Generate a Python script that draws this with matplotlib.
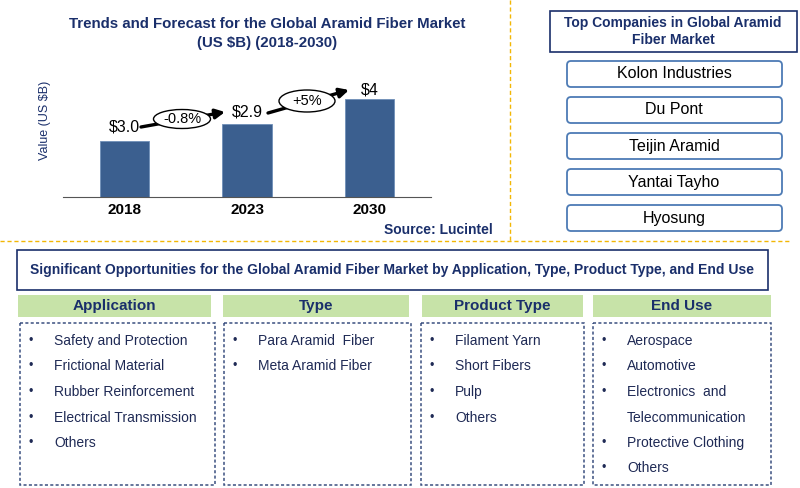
import matplotlib
matplotlib.use("Agg")
import matplotlib.pyplot as plt
from matplotlib.patches import Rectangle, FancyBboxPatch, Ellipse

plt.rcParams['font.family'] = ['Liberation Sans', 'DejaVu Sans']

# chart data
years = ['2018', '2023', '2030']
bar_heights = [2.3, 3.0, 4.0]          # visual bar heights
value_labels = ['$3.0', '$2.9', '$4']
growth_labels = ['-0.8%', '+5%']

companies = ['Kolon Industries', 'Du Pont', 'Teijin Aramid', 'Yantai Tayho', 'Hyosung']

segment_titles = ['Application', 'Type', 'Product Type', 'End Use']
application = ['Safety and Protection', 'Frictional Material', 'Rubber Reinforcement',
               'Electrical Transmission', 'Others']
types = ['Para Aramid  Fiber', 'Meta Aramid Fiber']
product_types = ['Filament Yarn', 'Short Fibers', 'Pulp', 'Others']
end_use = ['Aerospace', 'Automotive', 'Electronics  and\nTelecommunication',
           'Protective Clothing', 'Others']

navy = '#1a2f6b'
text_navy = '#1f2a55'
bar_color = '#3b5f8f'
gold = '#f2b705'
green = '#c7e3a8'
W, H = 800, 488

fig = plt.figure(figsize=(W / 100, H / 100), dpi=100)
ov = fig.add_axes([0, 0, 1, 1])
ov.set_xlim(0, W)
ov.set_ylim(H, 0)
ov.axis('off')

# ---- bar chart ----
ax = fig.add_axes([63 / W, (H - 197) / H, (431 - 63) / W, (197 - 60) / H])
xs = range(len(years))
ax.bar(xs, bar_heights, width=0.4, color=bar_color, edgecolor='#6f8fb8', linewidth=0.6)
ax.set_xlim(-0.5, 2.5)
ax.set_ylim(0, 4.0 * 137 / 98)
for s in ['top', 'right', 'left']:
    ax.spines[s].set_visible(False)
ax.spines['bottom'].set_color('#555555')
ax.set_yticks([])
ax.set_xticks(list(xs))
ax.set_xticklabels(years, fontsize=11, fontweight='bold')
ax.tick_params(axis='x', length=0, pad=4)
ax.patch.set_alpha(0)

# value labels above bars
lab_off = [0.55, 0.45, 0.35]
for i, (h, t) in enumerate(zip(bar_heights, value_labels)):
    ax.text(i, h + lab_off[i], t, ha='center', va='center', fontsize=11.5)

# growth arrows with ellipses (figure pixel coords)
arrows = [((141, 127), (225, 112), (182, 119), 57, 19),
          ((268, 113), (349, 90), (307, 101), 56, 22)]
for (p0, p1, c, ew, eh), g in zip(arrows, growth_labels):
    ov.annotate('', xy=p1, xytext=p0,
                arrowprops=dict(arrowstyle='-|>,head_length=0.55,head_width=0.28',
                                color='black', lw=2.4, shrinkA=0, shrinkB=0))
    ov.add_patch(Ellipse(c, ew, eh, facecolor='white', edgecolor='black', lw=1, zorder=5))
    ov.text(c[0], c[1], g, ha='center', va='center', fontsize=10.5, zorder=6)

ov.text(267, 24, 'Trends and Forecast for the Global Aramid Fiber Market',
        ha='center', va='center', fontsize=10.8, fontweight='bold', color=navy)
ov.text(267, 43, '(US $B) (2018-2030)', ha='center', va='center',
        fontsize=10.8, fontweight='bold', color=navy)
ov.text(45, 120, 'Value (US $B)', rotation=90, ha='center', va='center',
        fontsize=9, color=navy)
ov.text(493, 230, 'Source: Lucintel', ha='right', va='center',
        fontsize=10, fontweight='bold', color=navy)

# dashed separators
ov.plot([510, 510], [0, 241], ls=(0, (3, 2)), color=gold, lw=1)
ov.plot([0, 790], [241, 241], ls=(0, (3, 2)), color=gold, lw=1)

# ---- top companies ----
ov.add_patch(Rectangle((550, 11), 247, 41, facecolor='white', edgecolor=navy, lw=1.2))
ov.text(673, 23, 'Top Companies in Global Aramid', ha='center', va='center',
        fontsize=10, fontweight='bold', color=navy)
ov.text(673, 40, 'Fiber Market', ha='center', va='center',
        fontsize=10, fontweight='bold', color=navy)
for i, c in enumerate(companies):
    y0 = 61 + i * 36
    ov.add_patch(FancyBboxPatch((567, y0), 215, 26, boxstyle='round,pad=0,rounding_size=4',
                                facecolor='white', edgecolor='#4d7bb5', lw=1.3))
    ov.text(674, y0 + 13, c, ha='center', va='center', fontsize=11.5, color='black')

# ---- opportunities ----
ov.add_patch(Rectangle((17, 250), 751, 40, facecolor='white', edgecolor=navy, lw=1.2))
ov.text(392, 270, 'Significant Opportunities for the Global Aramid Fiber Market by '
        'Application, Type, Product Type, and End Use', ha='center', va='center',
        fontsize=10, fontweight='bold', color=navy)

cols = [(18, 211, 20, 215), (223, 409, 224, 411), (422, 583, 421, 584), (593, 771, 593, 771)]
lists = [application, types, product_types, end_use]
for (hx0, hx1, bx0, bx1), title, items in zip(cols, segment_titles, lists):
    ov.add_patch(Rectangle((hx0, 295), hx1 - hx0, 22, facecolor=green, edgecolor='none'))
    ov.text((hx0 + hx1) / 2, 306, title, ha='center', va='center',
            fontsize=11, fontweight='bold', color=navy)
    ov.add_patch(Rectangle((bx0, 323), bx1 - bx0, 162, facecolor='none',
                           edgecolor='#3a4f80', lw=1.1, ls=(0, (2, 1.5))))
    row = 0
    for it in items:
        y = 341 + row * 25.5
        ov.text(bx0 + 11, y, '•', ha='center', va='center', fontsize=9, color=text_navy)
        for k, line in enumerate(it.split('\n')):
            ov.text(bx0 + 34, y + k * 25.5, line, ha='left', va='center',
                    fontsize=10, color=text_navy)
        row += len(it.split('\n'))

fig.savefig('out.png', dpi=100)
